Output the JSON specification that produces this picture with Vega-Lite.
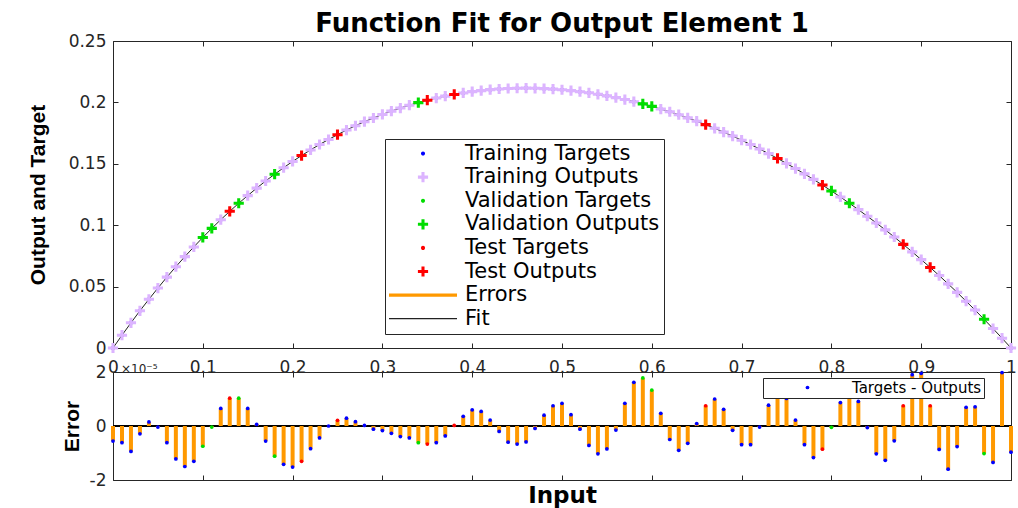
{
  "$schema": "https://vega.github.io/schema/vega-lite/v6.json",
  "padding": {"left": 26, "top": 10, "right": 2, "bottom": 2},
  "background": "#ffffff",
  "config": {
    "view": {"stroke": "#262626", "strokeWidth": 1},
    "axis": {
      "grid": false, "domain": false,
      "tickColor": "#262626", "tickWidth": 1, "tickSize": -5,
      "labelFont": "DejaVu Sans", "labelFontSize": 17, "labelColor": "#262626",
      "labelFlush": false, "labelOverlap": false,
      "titleFont": "Liberation Sans", "titleFontWeight": "bold", "titleColor": "#000000", "titleFontSize": 21
    }
  },
  "bounds": "flush",
  "spacing": 24,
  "datasets": {
    "fit": [
      {"x":0,"y":0,"s":"Training Targets"},{"x":0.01,"y":0.0104,"s":"Training Targets"},{"x":0.02,"y":0.0205,"s":"Training Targets"},{"x":0.03,"y":0.0303,"s":"Training Targets"},{"x":0.04,"y":0.0397,"s":"Training Targets"},{"x":0.05,"y":0.0488,"s":"Training Targets"},{"x":0.06,"y":0.0577,"s":"Training Targets"},{"x":0.07,"y":0.0662,"s":"Training Targets"},{"x":0.08,"y":0.0744,"s":"Training Targets"},{"x":0.09,"y":0.0823,"s":"Training Targets"},
      {"x":0.12,"y":0.1045,"s":"Training Targets"},{"x":0.15,"y":0.1241,"s":"Training Targets"},{"x":0.16,"y":0.1302,"s":"Training Targets"},{"x":0.17,"y":0.136,"s":"Training Targets"},{"x":0.19,"y":0.1468,"s":"Training Targets"},{"x":0.2,"y":0.1519,"s":"Training Targets"},{"x":0.22,"y":0.1613,"s":"Training Targets"},{"x":0.23,"y":0.1657,"s":"Training Targets"},{"x":0.24,"y":0.1698,"s":"Training Targets"},{"x":0.26,"y":0.1775,"s":"Training Targets"},
      {"x":0.27,"y":0.181,"s":"Training Targets"},{"x":0.28,"y":0.1843,"s":"Training Targets"},{"x":0.29,"y":0.1873,"s":"Training Targets"},{"x":0.3,"y":0.1902,"s":"Training Targets"},{"x":0.31,"y":0.1929,"s":"Training Targets"},{"x":0.32,"y":0.1954,"s":"Training Targets"},{"x":0.33,"y":0.1977,"s":"Training Targets"},{"x":0.36,"y":0.2035,"s":"Training Targets"},{"x":0.37,"y":0.2051,"s":"Training Targets"},{"x":0.39,"y":0.2077,"s":"Training Targets"},
      {"x":0.4,"y":0.2088,"s":"Training Targets"},{"x":0.41,"y":0.2096,"s":"Training Targets"},{"x":0.42,"y":0.2104,"s":"Training Targets"},{"x":0.43,"y":0.2109,"s":"Training Targets"},{"x":0.44,"y":0.2113,"s":"Training Targets"},{"x":0.45,"y":0.2115,"s":"Training Targets"},{"x":0.46,"y":0.2116,"s":"Training Targets"},{"x":0.47,"y":0.2115,"s":"Training Targets"},{"x":0.48,"y":0.2112,"s":"Training Targets"},{"x":0.49,"y":0.2108,"s":"Training Targets"},
      {"x":0.5,"y":0.2103,"s":"Training Targets"},{"x":0.51,"y":0.2096,"s":"Training Targets"},{"x":0.52,"y":0.2087,"s":"Training Targets"},{"x":0.53,"y":0.2078,"s":"Training Targets"},{"x":0.54,"y":0.2066,"s":"Training Targets"},{"x":0.55,"y":0.2053,"s":"Training Targets"},{"x":0.56,"y":0.2039,"s":"Training Targets"},{"x":0.57,"y":0.2023,"s":"Training Targets"},{"x":0.58,"y":0.2006,"s":"Training Targets"},{"x":0.61,"y":0.1946,"s":"Training Targets"},
      {"x":0.62,"y":0.1924,"s":"Training Targets"},{"x":0.63,"y":0.19,"s":"Training Targets"},{"x":0.64,"y":0.1874,"s":"Training Targets"},{"x":0.65,"y":0.1847,"s":"Training Targets"},{"x":0.67,"y":0.1789,"s":"Training Targets"},{"x":0.68,"y":0.1758,"s":"Training Targets"},{"x":0.69,"y":0.1726,"s":"Training Targets"},{"x":0.7,"y":0.1692,"s":"Training Targets"},{"x":0.71,"y":0.1657,"s":"Training Targets"},{"x":0.72,"y":0.1621,"s":"Training Targets"},
      {"x":0.73,"y":0.1583,"s":"Training Targets"},{"x":0.75,"y":0.1503,"s":"Training Targets"},{"x":0.76,"y":0.1461,"s":"Training Targets"},{"x":0.77,"y":0.1418,"s":"Training Targets"},{"x":0.78,"y":0.1373,"s":"Training Targets"},{"x":0.81,"y":0.123,"s":"Training Targets"},{"x":0.83,"y":0.1127,"s":"Training Targets"},{"x":0.84,"y":0.1073,"s":"Training Targets"},{"x":0.85,"y":0.1018,"s":"Training Targets"},{"x":0.86,"y":0.0962,"s":"Training Targets"},
      {"x":0.87,"y":0.0904,"s":"Training Targets"},{"x":0.89,"y":0.0783,"s":"Training Targets"},{"x":0.9,"y":0.072,"s":"Training Targets"},{"x":0.92,"y":0.059,"s":"Training Targets"},{"x":0.93,"y":0.0522,"s":"Training Targets"},{"x":0.94,"y":0.0453,"s":"Training Targets"},{"x":0.95,"y":0.0381,"s":"Training Targets"},{"x":0.96,"y":0.0309,"s":"Training Targets"},{"x":0.98,"y":0.0158,"s":"Training Targets"},{"x":0.99,"y":0.008,"s":"Training Targets"},
      {"x":1,"y":0,"s":"Training Targets"},

      {"x":0,"y":0.0000056,"s":"Training Outputs"},{"x":0.01,"y":0.0104062,"s":"Training Outputs"},{"x":0.02,"y":0.0205094,"s":"Training Outputs"},{"x":0.03,"y":0.0303029,"s":"Training Outputs"},{"x":0.04,"y":0.0396985,"s":"Training Outputs"},{"x":0.05,"y":0.0488004,"s":"Training Outputs"},{"x":0.06,"y":0.0577062,"s":"Training Outputs"},{"x":0.07,"y":0.0662122,"s":"Training Outputs"},{"x":0.08,"y":0.074415,"s":"Training Outputs"},{"x":0.09,"y":0.0823131,"s":"Training Outputs"},
      {"x":0.12,"y":0.1044935,"s":"Training Outputs"},{"x":0.15,"y":0.1240935,"s":"Training Outputs"},{"x":0.16,"y":0.1301994,"s":"Training Outputs"},{"x":0.17,"y":0.1360056,"s":"Training Outputs"},{"x":0.19,"y":0.1468142,"s":"Training Outputs"},{"x":0.2,"y":0.1519152,"s":"Training Outputs"},{"x":0.22,"y":0.1613084,"s":"Training Outputs"},{"x":0.23,"y":0.1657044,"s":"Training Outputs"},{"x":0.24,"y":0.1698,"s":"Training Outputs"},{"x":0.26,"y":0.1774971,"s":"Training Outputs"},
      {"x":0.27,"y":0.1809984,"s":"Training Outputs"},{"x":0.28,"y":0.1842998,"s":"Training Outputs"},{"x":0.29,"y":0.1873012,"s":"Training Outputs"},{"x":0.3,"y":0.1902017,"s":"Training Outputs"},{"x":0.31,"y":0.1929027,"s":"Training Outputs"},{"x":0.32,"y":0.1954039,"s":"Training Outputs"},{"x":0.33,"y":0.1977044,"s":"Training Outputs"},{"x":0.36,"y":0.2035062,"s":"Training Outputs"},{"x":0.37,"y":0.2051037,"s":"Training Outputs"},{"x":0.39,"y":0.2076964,"s":"Training Outputs"},
      {"x":0.4,"y":0.208794,"s":"Training Outputs"},{"x":0.41,"y":0.2095946,"s":"Training Outputs"},{"x":0.42,"y":0.2103978,"s":"Training Outputs"},{"x":0.43,"y":0.210902,"s":"Training Outputs"},{"x":0.44,"y":0.211306,"s":"Training Outputs"},{"x":0.45,"y":0.2115067,"s":"Training Outputs"},{"x":0.46,"y":0.2116059,"s":"Training Outputs"},{"x":0.47,"y":0.2115009,"s":"Training Outputs"},{"x":0.48,"y":0.211196,"s":"Training Outputs"},{"x":0.49,"y":0.2107925,"s":"Training Outputs"},
      {"x":0.5,"y":0.2102916,"s":"Training Outputs"},{"x":0.51,"y":0.2095958,"s":"Training Outputs"},{"x":0.52,"y":0.2087012,"s":"Training Outputs"},{"x":0.53,"y":0.2078072,"s":"Training Outputs"},{"x":0.54,"y":0.2066103,"s":"Training Outputs"},{"x":0.55,"y":0.2053085,"s":"Training Outputs"},{"x":0.56,"y":0.2039015,"s":"Training Outputs"},{"x":0.57,"y":0.2022916,"s":"Training Outputs"},{"x":0.58,"y":0.2005838,"s":"Training Outputs"},{"x":0.61,"y":0.1945953,"s":"Training Outputs"},
      {"x":0.62,"y":0.192405,"s":"Training Outputs"},{"x":0.63,"y":0.190009,"s":"Training Outputs"},{"x":0.64,"y":0.1874064,"s":"Training Outputs"},{"x":0.65,"y":0.1846991,"s":"Training Outputs"},{"x":0.67,"y":0.17889,"s":"Training Outputs"},{"x":0.68,"y":0.1757938,"s":"Training Outputs"},{"x":0.69,"y":0.1726016,"s":"Training Outputs"},{"x":0.7,"y":0.1692069,"s":"Training Outputs"},{"x":0.71,"y":0.1657069,"s":"Training Outputs"},{"x":0.72,"y":0.1621004,"s":"Training Outputs"},
      {"x":0.73,"y":0.1582923,"s":"Training Outputs"},{"x":0.75,"y":0.1502898,"s":"Training Outputs"},{"x":0.76,"y":0.1460978,"s":"Training Outputs"},{"x":0.77,"y":0.1418069,"s":"Training Outputs"},{"x":0.78,"y":0.1373117,"s":"Training Outputs"},{"x":0.81,"y":0.1229913,"s":"Training Outputs"},{"x":0.83,"y":0.1126909,"s":"Training Outputs"},{"x":0.84,"y":0.1073006,"s":"Training Outputs"},{"x":0.85,"y":0.1018103,"s":"Training Outputs"},{"x":0.86,"y":0.0962127,"s":"Training Outputs"},
      {"x":0.87,"y":0.0904055,"s":"Training Outputs"},{"x":0.89,"y":0.078281,"s":"Training Outputs"},{"x":0.9,"y":0.0719805,"s":"Training Outputs"},{"x":0.92,"y":0.0590087,"s":"Training Outputs"},{"x":0.93,"y":0.052216,"s":"Training Outputs"},{"x":0.94,"y":0.0453076,"s":"Training Outputs"},{"x":0.95,"y":0.0380931,"s":"Training Outputs"},{"x":0.96,"y":0.0308929,"s":"Training Outputs"},{"x":0.98,"y":0.0158135,"s":"Training Outputs"},{"x":0.99,"y":0.0079802,"s":"Training Outputs"},
      {"x":1,"y":0.0000097,"s":"Training Outputs"},

      {"x":0.1,"y":0.09,"s":"Validation Targets"},{"x":0.11,"y":0.0974,"s":"Validation Targets"},{"x":0.14,"y":0.1179,"s":"Validation Targets"},{"x":0.18,"y":0.1415,"s":"Validation Targets"},{"x":0.34,"y":0.1998,"s":"Validation Targets"},{"x":0.59,"y":0.1988,"s":"Validation Targets"},{"x":0.6,"y":0.1968,"s":"Validation Targets"},{"x":0.8,"y":0.1279,"s":"Validation Targets"},{"x":0.82,"y":0.1179,"s":"Validation Targets"},{"x":0.97,"y":0.0234,"s":"Validation Targets"},

      {"x":0.1,"y":0.0900075,"s":"Validation Outputs"},{"x":0.11,"y":0.0974004,"s":"Validation Outputs"},{"x":0.14,"y":0.1178897,"s":"Validation Outputs"},{"x":0.18,"y":0.1415112,"s":"Validation Outputs"},{"x":0.34,"y":0.1998062,"s":"Validation Outputs"},{"x":0.59,"y":0.1987822,"s":"Validation Outputs"},{"x":0.6,"y":0.1967867,"s":"Validation Outputs"},{"x":0.8,"y":0.1279005,"s":"Validation Outputs"},{"x":0.82,"y":0.117887,"s":"Validation Outputs"},{"x":0.97,"y":0.0234102,"s":"Validation Outputs"},

      {"x":0.13,"y":0.1113,"s":"Test Targets"},{"x":0.21,"y":0.1567,"s":"Test Targets"},{"x":0.25,"y":0.1737,"s":"Test Targets"},{"x":0.35,"y":0.2018,"s":"Test Targets"},{"x":0.38,"y":0.2065,"s":"Test Targets"},{"x":0.66,"y":0.1819,"s":"Test Targets"},{"x":0.74,"y":0.1544,"s":"Test Targets"},{"x":0.79,"y":0.1327,"s":"Test Targets"},{"x":0.88,"y":0.0844,"s":"Test Targets"},{"x":0.91,"y":0.0656,"s":"Test Targets"},

      {"x":0.13,"y":0.1112897,"s":"Test Outputs"},{"x":0.21,"y":0.1567131,"s":"Test Outputs"},{"x":0.25,"y":0.1736979,"s":"Test Outputs"},{"x":0.35,"y":0.2018067,"s":"Test Outputs"},{"x":0.38,"y":0.2064998,"s":"Test Outputs"},{"x":0.66,"y":0.1818925,"s":"Test Outputs"},{"x":0.74,"y":0.1543865,"s":"Test Outputs"},{"x":0.79,"y":0.1327086,"s":"Test Outputs"},{"x":0.88,"y":0.0843925,"s":"Test Outputs"},{"x":0.91,"y":0.0655925,"s":"Test Outputs"}
    ],
    "err": [
      {"x":0,"e":-0.56,"set":"Training"},{"x":0.01,"e":-0.62,"set":"Training"},{"x":0.02,"e":-0.94,"set":"Training"},{"x":0.03,"e":-0.29,"set":"Training"},{"x":0.04,"e":0.15,"set":"Training"},{"x":0.05,"e":-0.04,"set":"Training"},{"x":0.06,"e":-0.62,"set":"Training"},{"x":0.07,"e":-1.22,"set":"Training"},{"x":0.08,"e":-1.5,"set":"Training"},{"x":0.09,"e":-1.31,"set":"Training"},
      {"x":0.1,"e":-0.75,"set":"Validation"},{"x":0.11,"e":-0.04,"set":"Validation"},{"x":0.12,"e":0.65,"set":"Training"},{"x":0.13,"e":1.03,"set":"Test"},{"x":0.14,"e":1.03,"set":"Validation"},{"x":0.15,"e":0.65,"set":"Training"},{"x":0.16,"e":0.06,"set":"Training"},{"x":0.17,"e":-0.56,"set":"Training"},{"x":0.18,"e":-1.12,"set":"Validation"},{"x":0.19,"e":-1.42,"set":"Training"},
      {"x":0.2,"e":-1.52,"set":"Training"},{"x":0.21,"e":-1.31,"set":"Test"},{"x":0.22,"e":-0.84,"set":"Training"},{"x":0.23,"e":-0.44,"set":"Training"},{"x":0.24,"e":0,"set":"Training"},{"x":0.25,"e":0.21,"set":"Test"},{"x":0.26,"e":0.29,"set":"Training"},{"x":0.27,"e":0.16,"set":"Training"},{"x":0.28,"e":0.02,"set":"Training"},{"x":0.29,"e":-0.12,"set":"Training"},
      {"x":0.3,"e":-0.17,"set":"Training"},{"x":0.31,"e":-0.27,"set":"Training"},{"x":0.32,"e":-0.39,"set":"Training"},{"x":0.33,"e":-0.44,"set":"Training"},{"x":0.34,"e":-0.62,"set":"Validation"},{"x":0.35,"e":-0.67,"set":"Test"},{"x":0.36,"e":-0.62,"set":"Training"},{"x":0.37,"e":-0.37,"set":"Training"},{"x":0.38,"e":0.02,"set":"Test"},{"x":0.39,"e":0.36,"set":"Training"},
      {"x":0.4,"e":0.6,"set":"Training"},{"x":0.41,"e":0.54,"set":"Training"},{"x":0.42,"e":0.22,"set":"Training"},{"x":0.43,"e":-0.2,"set":"Training"},{"x":0.44,"e":-0.6,"set":"Training"},{"x":0.45,"e":-0.67,"set":"Training"},{"x":0.46,"e":-0.59,"set":"Training"},{"x":0.47,"e":-0.09,"set":"Training"},{"x":0.48,"e":0.4,"set":"Training"},{"x":0.49,"e":0.75,"set":"Training"},
      {"x":0.5,"e":0.84,"set":"Training"},{"x":0.51,"e":0.42,"set":"Training"},{"x":0.52,"e":-0.12,"set":"Training"},{"x":0.53,"e":-0.72,"set":"Training"},{"x":0.54,"e":-1.03,"set":"Training"},{"x":0.55,"e":-0.85,"set":"Training"},{"x":0.56,"e":-0.15,"set":"Training"},{"x":0.57,"e":0.84,"set":"Training"},{"x":0.58,"e":1.62,"set":"Training"},{"x":0.59,"e":1.78,"set":"Validation"},
      {"x":0.6,"e":1.33,"set":"Validation"},{"x":0.61,"e":0.47,"set":"Training"},{"x":0.62,"e":-0.5,"set":"Training"},{"x":0.63,"e":-0.9,"set":"Training"},{"x":0.64,"e":-0.64,"set":"Training"},{"x":0.65,"e":0.09,"set":"Training"},{"x":0.66,"e":0.75,"set":"Test"},{"x":0.67,"e":1,"set":"Training"},{"x":0.68,"e":0.62,"set":"Training"},{"x":0.69,"e":-0.16,"set":"Training"},
      {"x":0.7,"e":-0.69,"set":"Training"},{"x":0.71,"e":-0.69,"set":"Training"},{"x":0.72,"e":-0.04,"set":"Training"},{"x":0.73,"e":0.77,"set":"Training"},{"x":0.74,"e":1.35,"set":"Test"},{"x":0.75,"e":1.02,"set":"Training"},{"x":0.76,"e":0.22,"set":"Training"},{"x":0.77,"e":-0.69,"set":"Training"},{"x":0.78,"e":-1.17,"set":"Training"},{"x":0.79,"e":-0.86,"set":"Test"},
      {"x":0.8,"e":-0.05,"set":"Validation"},{"x":0.81,"e":0.87,"set":"Training"},{"x":0.82,"e":1.3,"set":"Validation"},{"x":0.83,"e":0.91,"set":"Training"},{"x":0.84,"e":-0.06,"set":"Training"},{"x":0.85,"e":-1.03,"set":"Training"},{"x":0.86,"e":-1.27,"set":"Training"},{"x":0.87,"e":-0.55,"set":"Training"},{"x":0.88,"e":0.75,"set":"Test"},{"x":0.89,"e":1.9,"set":"Training"},
      {"x":0.9,"e":1.95,"set":"Training"},{"x":0.91,"e":0.75,"set":"Test"},{"x":0.92,"e":-0.87,"set":"Training"},{"x":0.93,"e":-1.6,"set":"Training"},{"x":0.94,"e":-0.76,"set":"Training"},{"x":0.95,"e":0.69,"set":"Training"},{"x":0.96,"e":0.71,"set":"Training"},{"x":0.97,"e":-1.02,"set":"Validation"},{"x":0.98,"e":-1.35,"set":"Training"},{"x":0.99,"e":1.98,"set":"Training"},
      {"x":1,"e":-0.97,"set":"Training"}
    ]
  },
  "vconcat": [
    {
      "width": 898,
      "height": 307,
      "title": {"text": "Function Fit for Output Element 1", "font": "DejaVu Sans", "fontSize": 26, "fontWeight": "bold", "color": "#000000", "anchor": "middle", "frame": "group", "baseline": "bottom", "offset": -31},
      "data": {"name": "fit"},
      "layer": [
        {
          "transform": [{"filter": {"field": "s", "oneOf": ["Training Outputs", "Validation Outputs", "Test Outputs"]}}],
          "mark": {"type": "line", "strokeWidth": 1},
          "encoding": {
            "x": {"field": "x", "type": "quantitative", "scale": {"domain": [0, 1]},
                  "axis": {"orient": "top", "labels": false, "title": null, "minExtent": 0, "maxExtent": 0, "values": [0, 0.1, 0.2, 0.3, 0.4, 0.5, 0.6, 0.7, 0.8, 0.9, 1]}},
            "y": {"field": "y", "type": "quantitative", "scale": {"domain": [0, 0.25]},
                  "axis": {"orient": "right", "labels": false, "title": null, "minExtent": 0, "maxExtent": 0, "values": [0, 0.05, 0.1, 0.15, 0.2, 0.25]}},
            "color": {"datum": "Fit", "type": "nominal"}
          }
        },
        {
          "mark": {"type": "point", "filled": true, "opacity": 1, "size": 4624},
          "encoding": {
            "x": {"field": "x", "type": "quantitative", "scale": {"domain": [0, 1]},
                  "axis": {"orient": "bottom", "title": null, "values": [0, 0.1, 0.2, 0.3, 0.4, 0.5, 0.6, 0.7, 0.8, 0.9, 1], "labelExpr": "toString(datum.value)", "labelPadding": 16}},
            "y": {"field": "y", "type": "quantitative", "scale": {"domain": [0, 0.25]},
                  "axis": {"orient": "left", "title": "Output and Target", "titlePadding": 20, "values": [0, 0.05, 0.1, 0.15, 0.2, 0.25], "labelExpr": "toString(datum.value)", "labelPadding": 12}},
            "color": {
              "field": "s", "type": "nominal",
              "scale": {
                "domain": ["Training Targets", "Training Outputs", "Validation Targets", "Validation Outputs", "Test Targets", "Test Outputs", "Errors", "Fit"],
                "range": ["#0000ff", "#dcb4ff", "#00dd00", "#00dd00", "#ff0000", "#ff0000", "#ff9900", "#222222"]
              },
              "legend": {
                "orient": "none", "legendX": 272, "legendY": 98, "title": null,
                "labelFont": "DejaVu Sans", "labelFontSize": 21, "labelColor": "#000000", "labelLimit": 400,
                "strokeColor": "#262626", "fillColor": "#ffffff",
                "padding": 4, "rowPadding": 1.6, "labelOffset": 8,
                "symbolSize": 4624, "clipHeight": 21, "symbolStrokeWidth": 0, "symbolOpacity": 1
              }
            },
            "shape": {
              "field": "s", "type": "nominal",
              "scale": {
                "domain": ["Training Targets", "Training Outputs", "Validation Targets", "Validation Outputs", "Test Targets", "Test Outputs", "Errors", "Fit"],
                "range": [
                  "M-0.06,0A0.06,0.06 0 1,0 0.06,0A0.06,0.06 0 1,0 -0.06,0Z",
                  "M-0.15,-0.045H-0.045V-0.15H0.045V-0.045H0.15V0.045H0.045V0.15H-0.045V0.045H-0.15Z",
                  "M-0.06,0A0.06,0.06 0 1,0 0.06,0A0.06,0.06 0 1,0 -0.06,0Z",
                  "M-0.15,-0.045H-0.045V-0.15H0.045V-0.045H0.15V0.045H0.045V0.15H-0.045V0.045H-0.15Z",
                  "M-0.06,0A0.06,0.06 0 1,0 0.06,0A0.06,0.06 0 1,0 -0.06,0Z",
                  "M-0.15,-0.045H-0.045V-0.15H0.045V-0.045H0.15V0.045H0.045V0.15H-0.045V0.045H-0.15Z",
                  "M-1,-0.045H1V0.045H-1Z",
                  "M-1,-0.017H1V0.017H-1Z"
                ]
              }
            }
          }
        }
      ],
      "resolve": {"axis": {"x": "independent", "y": "independent"}}
    },
    {
      "width": 898,
      "height": 108,
      "title": {"text": "×10⁻⁵", "anchor": "start", "frame": "group", "font": "DejaVu Sans", "fontSize": 12, "fontWeight": "normal", "color": "#262626", "baseline": "bottom", "offset": -25, "dx": 8},
      "data": {"name": "err"},
      "layer": [
        {
          "mark": {"type": "rule", "color": "#000000", "strokeWidth": 1},
          "encoding": {"y": {"datum": 0, "type": "quantitative", "axis": null}}
        },
        {
          "mark": {"type": "rule", "color": "#ff9900", "strokeWidth": 4},
          "encoding": {
            "x": {"field": "x", "type": "quantitative", "scale": {"domain": [0, 1]},
                  "axis": {"orient": "top", "labels": false, "title": null, "minExtent": 0, "maxExtent": 0, "values": [0, 0.1, 0.2, 0.3, 0.4, 0.5, 0.6, 0.7, 0.8, 0.9, 1]}},
            "y": {"field": "e", "type": "quantitative", "scale": {"domain": [-2, 2]},
                  "axis": {"orient": "right", "labels": false, "title": null, "minExtent": 0, "maxExtent": 0, "values": [-2, 0, 2]}},
            "y2": {"datum": 0}
          }
        },
        {
          "mark": {"type": "point", "filled": true, "opacity": 1, "size": 14},
          "encoding": {
            "x": {"field": "x", "type": "quantitative", "scale": {"domain": [0, 1]},
                  "axis": {"orient": "bottom", "labels": false, "title": "Input", "titleFont": "DejaVu Sans", "titleFontSize": 23, "titlePadding": 4, "values": [0, 0.1, 0.2, 0.3, 0.4, 0.5, 0.6, 0.7, 0.8, 0.9, 1]}},
            "y": {"field": "e", "type": "quantitative", "scale": {"domain": [-2, 2]},
                  "axis": {"orient": "left", "title": "Error", "titlePadding": 7, "values": [-2, 0, 2], "labelExpr": "toString(datum.value)", "labelPadding": 12}},
            "color": {
              "field": "set", "type": "nominal",
              "scale": {"domain": ["Training", "Validation", "Test"], "range": ["#0000ff", "#00dd00", "#ff0000"]},
              "legend": {
                "values": ["Training"], "labelExpr": "'Targets - Outputs'",
                "orient": "none", "legendX": 650, "legendY": 6, "title": null,
                "labelFont": "DejaVu Sans", "labelFontSize": 15, "labelColor": "#000000",
                "strokeColor": "#262626", "fillColor": "#ffffff",
                "padding": 2, "symbolOffset": 35, "labelOffset": 37,
                "symbolType": "circle", "symbolSize": 14
              }
            }
          }
        }
      ],
      "resolve": {"axis": {"x": "independent", "y": "independent"}}
    }
  ],
  "resolve": {
    "scale": {"color": "independent", "shape": "independent"},
    "legend": {"color": "independent", "shape": "independent"}
  }
}
